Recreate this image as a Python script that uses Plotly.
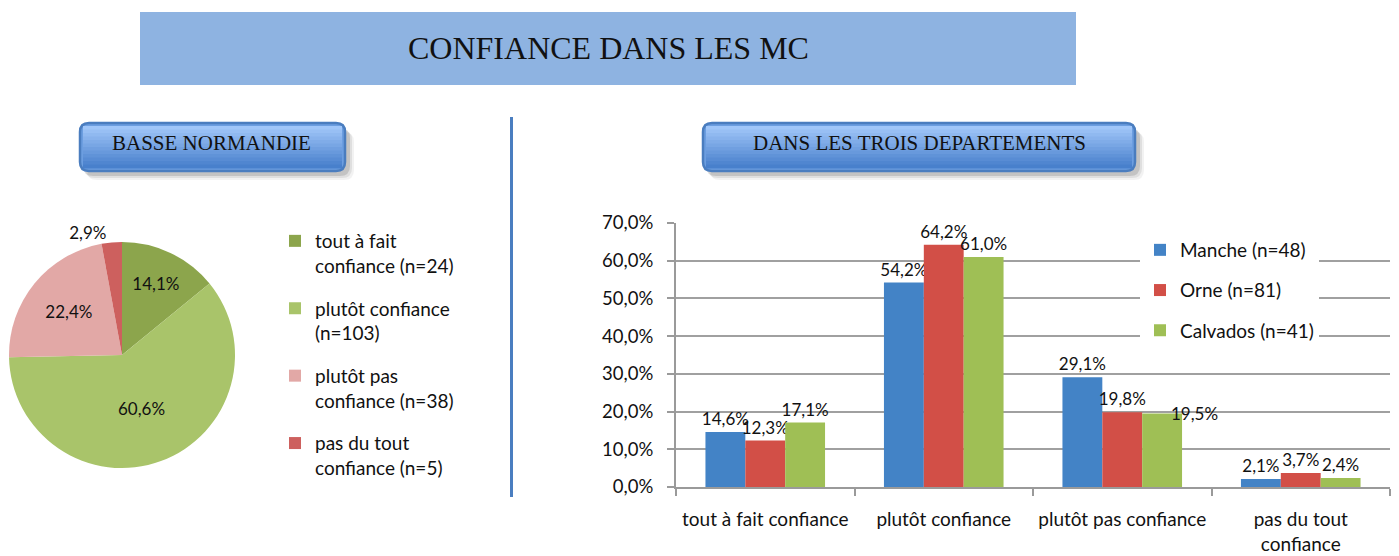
import plotly.graph_objects as go

W, H = 1399, 556

# ---------------- data ----------------
pie_labels = ["tout à fait<br>confiance (n=24)", "plutôt confiance<br>(n=103)",
              "plutôt pas<br>confiance (n=38)", "pas du tout<br>confiance (n=5)"]
pie_values = [14.1, 60.6, 22.4, 2.9]
pie_colors = ["#8CA54C", "#A9C46A", "#E2A8A6", "#CD605E"]

bar_categories = ["tout à fait confiance", "plutôt confiance",
                  "plutôt pas confiance", "pas du tout<br>confiance"]
manche = [14.6, 54.2, 29.1, 2.1]
orne = [12.3, 64.2, 19.8, 3.7]
calvados = [17.1, 61.0, 19.5, 2.4]
series_names = ["Manche (n=48)", "Orne (n=81)", "Calvados (n=41)"]
series_colors = ["#4383C6", "#D24F47", "#9FBF55"]
y_ticks = [0, 10, 20, 30, 40, 50, 60, 70]
y_ticktext = ["0,0%", "10,0%", "20,0%", "30,0%", "40,0%", "50,0%", "60,0%", "70,0%"]

TXT = "Lato"
SERIF = "Liberation Serif"


def px_x(x):
    return x / W


def px_y(y):
    return 1 - y / H


fig = go.Figure()

# Pie
fig.add_trace(go.Pie(
    labels=pie_labels, values=pie_values, sort=False, direction="clockwise",
    rotation=0, marker=dict(colors=pie_colors, line=dict(width=0)),
    texttemplate="%{value:.1f}%", textinfo="text",
    textposition=["inside", "inside", "inside", "outside"],
    insidetextorientation="horizontal",
    textfont=dict(family=TXT, size=17, color="#111"),
    outsidetextfont=dict(family=TXT, size=17, color="#111"),
    insidetextfont=dict(family=TXT, size=17, color="#111"),
    domain=dict(x=[px_x(9), px_x(235)], y=[px_y(468), px_y(242)]),
    showlegend=False, hoverinfo="label+percent", automargin=False,
))

# Pie legend entries (one per slice, so spacing between entries can be set)
for i, (lab, col) in enumerate(zip(pie_labels, pie_colors)):
    fig.add_trace(go.Scatter(
        x=[None], y=[None], mode="markers", name=lab,
        marker=dict(symbol="square", size=12, color=col),
        legend="legend", legendgroup=f"pie{i}", showlegend=True, hoverinfo="skip",
    ))

# Bars
all_series = [manche, orne, calvados]
for si, (name, vals, col) in enumerate(zip(series_names, all_series, series_colors)):
    # the Calvados label of "plutôt pas confiance" sits beside its bar (as in the source)
    tmpl = ["%{y:.1f}%"] * len(vals)
    if si == 2:
        tmpl[2] = ""
    fig.add_trace(go.Bar(
        x=bar_categories, y=vals, name=name, marker=dict(color=col, line=dict(width=0)),
        texttemplate=tmpl, textposition="outside", constraintext="none",
        cliponaxis=False, textfont=dict(family=TXT, size=17, color="#111"),
        legend="legend2", legendgroup=name,
    ))

annotations = []
annotations.append(dict(x=bar_categories[2], y=calvados[2], xref="x", yref="y",
                        text=f"{calvados[2]:.1f}%".replace(".", ","), showarrow=False,
                        xshift=72, yshift=0, xanchor="center", yanchor="middle",
                        font=dict(family=TXT, size=17, color="#111")))

fig.update_layout(
    width=W, height=H, margin=dict(l=0, r=0, t=0, b=0, autoexpand=False),
    paper_bgcolor="white", plot_bgcolor="white",
    separators=", ",
    barmode="group", bargap=0.33, bargroupgap=0,
    font=dict(family=TXT, size=19, color="#111"),
    xaxis=dict(domain=[px_x(676), px_x(1390)], type="category", showline=True,
               linecolor="#9A9A9A", linewidth=2, ticks="outside", ticklen=7,
               tickcolor="#9A9A9A", tickwidth=2, tickson="boundaries", showgrid=False,
               tickfont=dict(family=TXT, size=19, color="#111"), anchor="y",
               automargin=False, ticklabelstandoff=14),
    yaxis=dict(domain=[px_y(487), px_y(223)], range=[0, 70], tickvals=y_ticks,
               ticktext=y_ticktext, showgrid=True, gridcolor="#A0A0A0",
               gridwidth=2, showline=True, linecolor="#9A9A9A", linewidth=2,
               ticks="outside", ticklen=7, tickcolor="#9A9A9A", tickwidth=2,
               zeroline=False, tickfont=dict(family=TXT, size=18.5, color="#111"),
               anchor="x", automargin=False, ticklabelstandoff=10),
    legend=dict(x=px_x(275), y=px_y(222), xanchor="left", yanchor="top",
                font=dict(family=TXT, size=19, color="#111"), valign="top",
                bgcolor="rgba(0,0,0,0)", itemwidth=30, tracegroupgap=15,
                traceorder="grouped"),
    legend2=dict(x=px_x(1140), y=px_y(231), xanchor="left", yanchor="top",
                 font=dict(family=TXT, size=19, color="#111"), bgcolor="white",
                 tracegroupgap=12.5, traceorder="grouped", itemwidth=30),
)

shapes = []

# Title banner
shapes.append(dict(type="rect", xref="paper", yref="paper", x0=px_x(140), x1=px_x(1076),
                   y0=px_y(85), y1=px_y(12), fillcolor="#8EB3E1", line=dict(width=0),
                   layer="below"))
annotations.append(dict(text="CONFIANCE DANS LES MC", xref="paper", yref="paper",
                        x=px_x(608), y=px_y(48), xanchor="center", yanchor="middle",
                        showarrow=False, font=dict(family=SERIF, size=32, color="#111")))


def rounded_path(x0, y0, x1, y1, r):
    X0, X1 = px_x(x0), px_x(x1)
    Y0, Y1 = px_y(y0), px_y(y1)  # Y0 top (larger), Y1 bottom
    rx, ry = r / W, r / H
    return (f"M {X0+rx},{Y0} L {X1-rx},{Y0} Q {X1},{Y0} {X1},{Y0-ry} "
            f"L {X1},{Y1+ry} Q {X1},{Y1} {X1-rx},{Y1} L {X0+rx},{Y1} "
            f"Q {X0},{Y1} {X0},{Y1+ry} L {X0},{Y0-ry} Q {X0},{Y0} {X0+rx},{Y0} Z")


def button(x0, y0, x1, y1, label, cx):
    # shadow
    for off, a in [(9, 0.05), (7, 0.08), (5, 0.12)]:
        shapes.append(dict(type="path", xref="paper", yref="paper",
                           path=rounded_path(x0 + off - 2, y0 + off, x1 + off, y1 + off, 10),
                           fillcolor=f"rgba(0,0,0,{a})", line=dict(width=0), layer="below"))
    shapes.append(dict(type="path", xref="paper", yref="paper",
                       path=rounded_path(x0, y0, x1, y1, 9),
                       fillcolor="#6C9EE0", line=dict(color="#4A7DBF", width=2.5),
                       layer="below"))
    # gradient bands
    top = (160, 198, 249)
    bot = (72, 128, 204)
    n = 12
    hh = (y1 - y0 - 6) / n
    for i in range(n):
        t = i / (n - 1)
        c = tuple(int(top[k] + (bot[k] - top[k]) * t) for k in range(3))
        ya = y0 + 3 + i * hh
        shapes.append(dict(type="rect", xref="paper", yref="paper",
                           x0=px_x(x0 + 3), x1=px_x(x1 - 3), y0=px_y(ya + hh + 0.6),
                           y1=px_y(ya), fillcolor=f"rgb{c}", line=dict(width=0),
                           layer="below"))
    annotations.append(dict(text=label, xref="paper", yref="paper", x=px_x(cx),
                            y=px_y((y0 + y1) / 2 - 4), xanchor="center", yanchor="middle",
                            showarrow=False,
                            font=dict(family=SERIF, size=21, color="#111")))


button(80, 123, 345, 171, "BASSE NORMANDIE", 211)
button(703, 123, 1135, 171, "DANS LES TROIS DEPARTEMENTS", 919)

# separator line
shapes.append(dict(type="line", xref="paper", yref="paper", x0=px_x(511.5), x1=px_x(511.5),
                   y0=px_y(497), y1=px_y(117), line=dict(color="#4A7EC0", width=3)))

fig.update_layout(shapes=shapes, annotations=annotations)

fig.write_html("out.html", config={"displayModeBar": False},
               post_script="document.body.style.margin='0';")
